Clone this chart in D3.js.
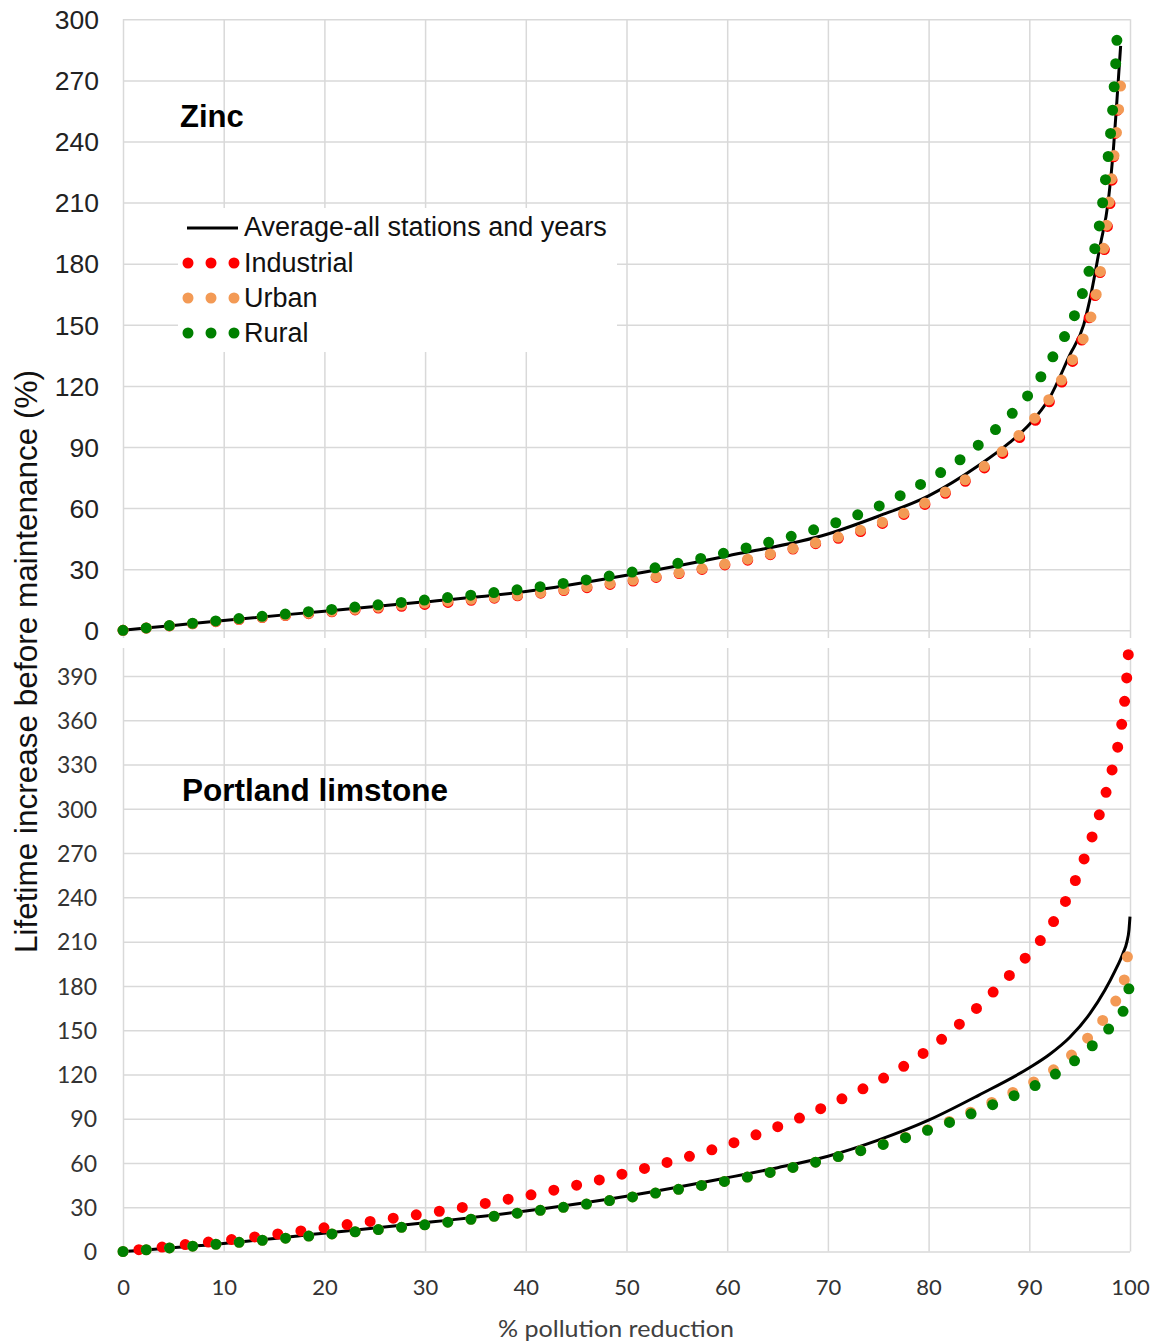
<!DOCTYPE html>
<html><head><meta charset="utf-8">
<script src="https://cdn.jsdelivr.net/npm/d3@7"></script>
<style>
body{margin:0;background:#fff}
svg{display:block}
</style>
</head><body>
<svg id="c" width="1157" height="1342"></svg>
<script>
// ---------- data ----------
const xTicks = [0,10,20,30,40,50,60,70,80,90,100];
const zincTicks = [0,30,60,90,120,150,180,210,240,270,300];
const stoneTicks = [0,30,60,90,120,150,180,210,240,270,300,330,360,390];
const seriesNames = ["Average-all stations and years","Industrial","Urban","Rural"];
const seriesColors = ["#000000","#ff0000","#f39a55","#008000"];

// Zinc panel
const zincAvgX = [0,5,10,20,30,40,50,60,70,75,80,85,88,90,92,94,95.4,96,97,97.85,98.35,98.7,99.07];
const zincAvgY = [0,2.4,4.8,9.4,14,19,27,36.5,47.3,56,66,81,92,101,114,135,150,162,188,211,236,260,287];
const zincIndX = [0,10,20,31.1,37.7,48.5,57.6,61.9,66.6,72.7,76.9,80.9,84.7,88.2,91.2,93.6,95.4,96.7,97.7,98.2,98.5,98.95];
const zincIndY = [0,4.6,8.8,13.2,16.2,22.6,30,34.3,40,47.6,55.5,65.1,76.7,90.6,106.8,125.3,145.3,168,196,220,242,265];
const zincUrbX = [0,10,20,30,39.3,48.5,57.6,66.6,73.5,77.7,81.8,85.7,89.1,92.1,94.4,96.2,96.7,97.1,97.7,98.2,98.7,99.1];
const zincUrbY = [0,4.7,9,13.4,17.3,23.1,30.4,40.3,49.6,57.9,68.4,81.2,96.4,114.4,134,155.3,166.3,177.7,200.1,223.5,246.5,269.4];
const zincRurX = [0,9.2,20.8,30,39.3,48.4,57.5,62,66.6,70.9,75.3,79.4,83.3,86.8,90,92.5,94.6,96,97,97.6,98.1,98.3,98.45,98.6,98.72];
const zincRurY = [0,4.6,10.3,14.9,20,26.7,35.4,40.6,46.5,53,61.5,72.2,84.4,99.3,116.2,135.7,156,177.7,200.1,222.7,245.6,257.1,268.6,280,292];

// Portland limestone panel
const stoneAvgX = [0,10,19.9,30,40,50,60,65,70,75,80,85,90,92,94,96,97.5,98.5,99.3,99.7,99.9,100];
const stoneAvgY = [0,5.5,12.3,19.5,27.5,37.5,50,56.8,64.6,75.5,89,106,124.5,133.5,145,161,177,190,202,210,218,227];
const stoneIndX = [0,4.3,13.2,22,30.8,39.6,46,50.3,54.6,59,63.1,67.2,71.3,75.3,79.1,82.6,85.8,88.9,91.7,94,95.7,97.1,98.3,99.2,99.67,99.87];
const stoneIndY = [0,3.3,10,18,26.6,37.2,46.4,53.7,61.4,70,79.7,90.5,103.2,116.7,132.5,151.3,171.7,193.6,216.4,242.8,270.8,299.3,328.7,358.5,388.3,409];
const stoneUrbX = [0,9.2,20.7,29.9,39.1,45.9,52.8,61.9,71,77.5,82,85,88.2,90.3,92.3,94.1,95.7,97.2,98.5,99.4,99.8];
const stoneUrbY = [0,4.9,11.9,18,25.9,32,39.5,50.3,64.3,77,88,97,107.3,114.4,122.6,132.5,143.9,155.8,168.7,182.9,203];
const stoneRurX = [0,9.2,20.7,29.9,39.1,45.9,52.8,61.9,71,77.5,82,86.3,90.5,94.4,97.8,99.3,99.95];
const stoneRurY = [0,4.9,11.9,18,25.9,32,39.5,50.3,64.3,76.7,87.3,99.3,112.2,128.7,150.2,162.6,180];

// ---------- layout ----------
const svg = d3.select("#c");
const L = 123, R = 1130;
const x = d3.scaleLinear([0,100],[L,R]);
const yZ = d3.scaleLinear([0,300],[630.3,19.3]);
const yS = d3.scaleLinear([0,409],[1251.5,648]);
const gridColor = "#d9d9d9";
const arial = "'Liberation Sans', Arial, sans-serif";
const calib = "Lato, 'Open Sans', sans-serif";

function styleGrid(g){
  g.select(".domain").remove();
  g.selectAll(".tick line").attr("stroke", gridColor).attr("stroke-width", 1.5);
}

// Zinc horizontal grid + labels
const gzy = svg.append("g").attr("transform",`translate(${L},0)`)
  .call(d3.axisLeft(yZ).tickValues(zincTicks).tickSize(-(R-L)).tickPadding(24));
styleGrid(gzy);
gzy.selectAll(".tick text").attr("font-family", arial).attr("font-size", 26.5).attr("fill","#222").attr("dy","0.35em");

// Zinc vertical grid (extends slightly below axis)
const gzx = svg.append("g").attr("transform",`translate(0,638)`)
  .call(d3.axisBottom(x).tickValues(xTicks).tickSize(-(638-19.3)).tickFormat(""));
styleGrid(gzx);

// Stone horizontal grid + labels
const gsy = svg.append("g").attr("transform",`translate(${L},0)`)
  .call(d3.axisLeft(yS).tickValues(stoneTicks).tickSize(-(R-L)).tickPadding(26));
styleGrid(gsy);
gsy.selectAll(".tick text").attr("font-family", calib).attr("font-size", 23).attr("fill","#333").attr("dy","0.36em");

// Stone vertical grid + x labels
const gsx = svg.append("g").attr("transform",`translate(0,1251.5)`)
  .call(d3.axisBottom(x).tickValues(xTicks).tickSize(-(1251.5-648)));
styleGrid(gsx);
gsx.selectAll(".tick text").attr("font-family", calib).attr("font-size", 22).attr("fill","#333")
  .attr("y", 43.5).attr("dy", null);

// ---------- series ----------
function pts(xs, ys){ return xs.map((v,i)=>[v, ys[i]]); }
function drawPanel(y, sets, offsets){
  const line = d3.line().x(d=>x(d[0])).y(d=>y(d[1])).curve(d3.curveMonotoneX);
  const g = svg.append("g");
  sets.forEach((s,i)=>{
    const p = g.append("path").attr("d", line(s)).attr("fill","none")
      .attr("stroke", seriesColors[i]);
    if(i===0){ p.attr("stroke-width", 3); }
    else {
      p.attr("stroke-width", 11).attr("stroke-linecap","round").attr("stroke-dasharray","0 23.3")
       .attr("stroke-dashoffset", offsets[i] || 0);
    }
  });
}
drawPanel(yZ, [pts(zincAvgX,zincAvgY), pts(zincIndX,zincIndY), pts(zincUrbX,zincUrbY), pts(zincRurX,zincRurY)], [0,0,0,0]);
drawPanel(yS, [pts(stoneAvgX,stoneAvgY), pts(stoneIndX,stoneIndY), pts(stoneUrbX,stoneUrbY), pts(stoneRurX,stoneRurY)], [0,7.3,0,0]);

// ---------- legend ----------
const lg = svg.append("g");
lg.append("rect").attr("x",178).attr("y",208).attr("width",439).attr("height",144).attr("fill","#fff");
const rowsY = [228, 263, 298, 333];
const baseY = [236, 271.5, 306.5, 341.5];
seriesNames.forEach((n,i)=>{
  if(i===0){
    lg.append("line").attr("x1",187).attr("x2",238).attr("y1",rowsY[i]).attr("y2",rowsY[i])
      .attr("stroke",seriesColors[i]).attr("stroke-width",3);
  } else {
    lg.append("line").attr("x1",188).attr("x2",234.05).attr("y1",rowsY[i]).attr("y2",rowsY[i])
      .attr("stroke",seriesColors[i]).attr("stroke-width",11).attr("stroke-linecap","round")
      .attr("stroke-dasharray","0 23");
  }
  lg.append("text").attr("x",244).attr("y",baseY[i]).text(n)
    .attr("font-family",arial).attr("font-size",27).attr("fill","#111");
});

// ---------- titles ----------
svg.append("text").attr("x",180).attr("y",127).text("Zinc")
  .attr("font-family",arial).attr("font-weight","bold").attr("font-size",31).attr("fill","#000");
svg.append("text").attr("x",182).attr("y",801).text("Portland limstone")
  .attr("font-family",arial).attr("font-weight","bold").attr("font-size",31.5).attr("fill","#000");

svg.append("text").attr("transform","translate(37,661.5) rotate(-90)")
  .attr("text-anchor","middle").text("Lifetime increase before maintenance (%)")
  .attr("font-family",arial).attr("font-size",31.5).attr("fill","#111");

svg.append("text").attr("x",616).attr("y",1337).attr("text-anchor","middle")
  .text("% pollution reduction").attr("font-family",calib).attr("font-size",24)
  .attr("textLength",236).attr("lengthAdjust","spacingAndGlyphs").attr("fill","#404040");
</script>
</body></html>
